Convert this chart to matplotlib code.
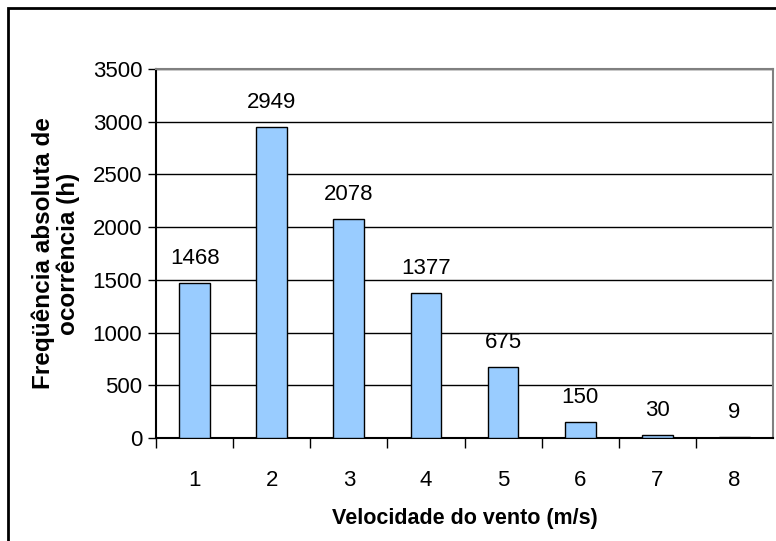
import matplotlib
matplotlib.use("Agg")
from matplotlib import pyplot as plt
from matplotlib.patches import Rectangle

# dados do grafico
velocidades = [1, 2, 3, 4, 5, 6, 7, 8]
frequencias = [1468, 2949, 2078, 1377, 675, 150, 30, 9]
yticks = [0, 500, 1000, 1500, 2000, 2500, 3000, 3500]

plt.rcParams['font.family'] = ['Liberation Sans', 'DejaVu Sans']

fig = plt.figure(figsize=(7.76, 5.41), dpi=100)
ax = fig.add_axes([156/776, 103/541, 617/776, 369/541])

ax.bar(velocidades, frequencias, width=0.4, color='#99CCFF', edgecolor='black', linewidth=1, zorder=3)

for v, f in zip(velocidades, frequencias):
    ax.annotate(str(f), (v, f), xytext=(0, 10), textcoords='offset points',
                ha='center', va='bottom', fontsize=16)

ax.set_xlim(0.5, 8.5)
ax.set_ylim(0, 3500)
ax.set_yticks(yticks)
ax.yaxis.grid(True, color='black', linewidth=1)
ax.set_axisbelow(True)

# ticks do eixo x nas fronteiras das categorias
ax.set_xticks([v + 0.5 for v in velocidades[:-1]] + [0.5])
ax.set_xticklabels([])
ax.set_xticks(velocidades, minor=True)
ax.set_xticklabels([str(v) for v in velocidades], minor=True, fontsize=16)
ax.tick_params(axis='x', which='major', length=7, width=1, direction='out')
ax.tick_params(axis='x', which='minor', length=0, pad=23)
ax.tick_params(axis='y', length=6, width=1, labelsize=16, pad=4)

ax.spines['left'].set_linewidth(1.5)
ax.spines['bottom'].set_linewidth(1.5)
ax.spines['top'].set_color('#808080')
ax.spines['right'].set_color('#808080')
ax.spines['top'].set_linewidth(1.5)
ax.spines['right'].set_linewidth(1.5)

ax.set_xlabel('Velocidade do vento (m/s)', fontsize=15.5, fontweight='bold', labelpad=12)
ax.set_ylabel('Freqüência absoluta de\nocorrência (h)', fontsize=17.5, fontweight='bold',
              labelpad=9, linespacing=1.1)

# moldura externa
fig.patches.append(Rectangle((8/776, -0.1), 1.1, 1.1 - 7.5/541, transform=fig.transFigure,
                             fill=False, edgecolor='black', linewidth=2))

fig.savefig('out.png', dpi=100)
